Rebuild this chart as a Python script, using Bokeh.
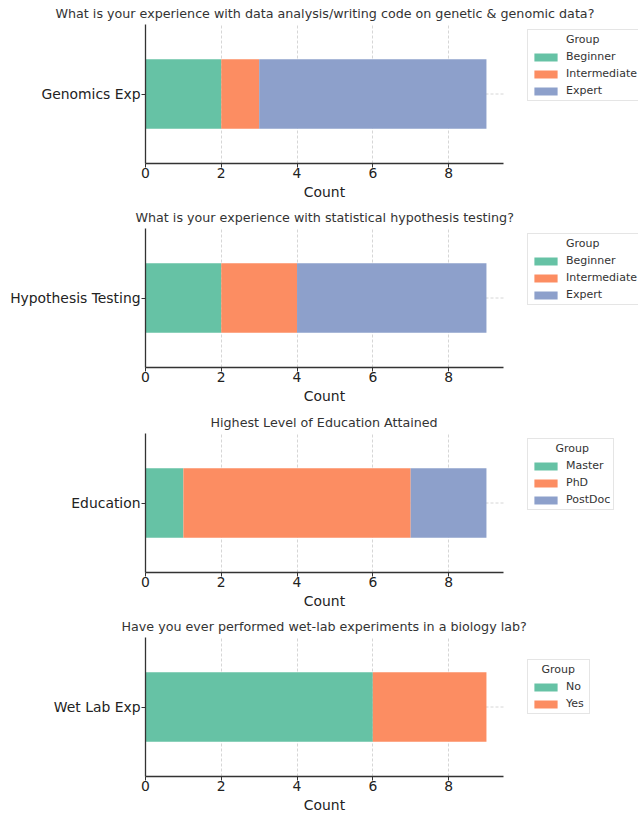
import numpy as np
from bokeh.plotting import figure
from bokeh.models import FactorRange, Range1d, FixedTicker, Legend, LegendItem, Title
from bokeh.layouts import column
from bokeh.embed import file_html
from bokeh.resources import INLINE

# ---- data ----
titles = [
    "What is your experience with data analysis/writing code on genetic & genomic data?",
    "What is your experience with statistical hypothesis testing?",
    "Highest Level of Education Attained",
    "Have you ever performed wet-lab experiments in a biology lab?",
]
categories = ["Genomics Exp", "Hypothesis Testing", "Education", "Wet Lab Exp"]

genomics_groups = ["Beginner", "Intermediate", "Expert"]
genomics_counts = [2, 1, 6]
hypothesis_groups = ["Beginner", "Intermediate", "Expert"]
hypothesis_counts = [2, 2, 5]
education_groups = ["Master", "PhD", "PostDoc"]
education_counts = [1, 6, 2]
wetlab_groups = ["No", "Yes"]
wetlab_counts = [6, 3]

x_ticks = [0, 2, 4, 6, 8]
x_label = "Count"
legend_title = "Group"
palette = ["#66c2a5", "#fc8d62", "#8da0cb"]

groups_all = [genomics_groups, hypothesis_groups, education_groups, wetlab_groups]
counts_all = [genomics_counts, hypothesis_counts, education_counts, wetlab_counts]

# ---- layout constants (pixels) ----
FIG_W = 638
LEFT = 145            # frame left inside figure
PLOT_W = 358          # width of the data area (0 .. xmax)
H = [204, 204, 205, 203]
TOP = [24, 24, 25, 24]
FRAME_H = 139
TITLE_START = [55, 135, 210, 121]   # left edge of each title inside the figure
LEG_X = 382
LEG_H = 72
FONT = "DejaVu Sans"

# approximate DejaVu Sans advance widths (em) for centring short texts
EM = {"B": .686, "I": .295, "E": .632, "M": .863, "P": .603, "D": .770, "N": .748,
      "Y": .611, "C": .698, "G": .775, "e": .615, "g": .635, "i": .278, "n": .634,
      "r": .411, "t": .392, "m": .974, "d": .635, "a": .613, "x": .592, "p": .635,
      "s": .521, "o": .612, "c": .550, "h": .634, "u": .634}


def text_w(s, size):
    return sum(EM.get(ch, 0.6) for ch in s) * size


figs = []
for i in range(4):
    cat = categories[i]
    groups = groups_all[i]
    counts = np.array(counts_all[i], dtype=float)
    rights = np.cumsum(counts)
    lefts = rights - counts
    xmax = rights[-1] * 1.05
    frame_w = FIG_W - LEFT
    x_end = xmax * frame_w / PLOT_W

    p = figure(
        y_range=FactorRange(factors=[cat]),
        x_range=Range1d(0, x_end),
        width=FIG_W, height=H[i],
        min_border_left=LEFT, min_border_right=0,
        min_border_top=TOP[i], min_border_bottom=H[i] - TOP[i] - FRAME_H,
        output_backend="svg", toolbar_location=None,
    )
    p.outline_line_color = None
    p.background_fill_color = "white"
    p.border_fill_color = "white"

    # horizontal dashed grid line at the category (only across the data area)
    p.ygrid.visible = False
    p.segment(x0=[0], x1=[xmax], y0=[cat], y1=[cat],
              line_color="#cccccc", line_dash="3 2", line_width=0.8)

    items = []
    for j, g in enumerate(groups):
        r = p.hbar(y=[cat], left=[lefts[j]], right=[rights[j]], height=0.5,
                   fill_color=palette[j], line_color=None)
        items.append(LegendItem(label=g, renderers=[r]))

    # title
    p.title.text = titles[i]
    p.title.align = "left"
    p.title.offset = TITLE_START[i] - LEFT
    p.title.text_font = FONT
    p.title.text_font_size = "12.7px"
    p.title.text_font_style = "normal"
    p.title.text_color = "#333333"
    p.title.standoff = 7

    # x axis
    p.xaxis.ticker = FixedTicker(ticks=x_ticks)
    p.xaxis.bounds = (0, xmax)
    p.xaxis.major_label_text_font = FONT
    p.xaxis.major_label_text_font_size = "13.9px"
    p.xaxis.major_label_text_color = "#222222"
    p.xaxis.major_label_standoff = 0
    p.xaxis.major_tick_out = 4
    p.xaxis.major_tick_in = 0
    p.xaxis.minor_tick_line_color = None
    p.xaxis.axis_line_color = "#333333"
    p.xaxis.axis_line_width = 1.3
    p.xaxis.major_tick_line_color = "#333333"

    # x axis label, centred under the data area
    center = PLOT_W / 2
    xlab = Title(text=x_label, align="left",
                 offset=center - text_w(x_label, 13.9) / 2,
                 text_font=FONT, text_font_size="13.9px", text_font_style="normal",
                 text_color="#222222", standoff=2)
    p.add_layout(xlab, "below")

    # y axis
    p.yaxis.major_label_text_font = FONT
    p.yaxis.major_label_text_font_size = "13.9px"
    p.yaxis.major_label_text_color = "#222222"
    p.yaxis.major_label_standoff = 1
    p.yaxis.major_tick_out = 4
    p.yaxis.major_tick_in = 0
    p.yaxis.axis_line_color = "#333333"
    p.yaxis.axis_line_width = 1.3
    p.yaxis.major_tick_line_color = "#333333"

    # vertical grid
    p.xgrid.grid_line_color = "#cccccc"
    p.xgrid.grid_line_dash = "3 2"
    p.xgrid.grid_line_width = 0.8

    # legend to the right of the data area
    inner = 29 + 7 + max(text_w(g, 11) for g in groups)
    pad = max(0, int(round((inner - text_w(legend_title, 11)) / 2 / (0.318 * 11))))
    legend = Legend(
        items=items,
        title="\u00a0" * pad + legend_title,
        location=(LEG_X, FRAME_H - 5 - LEG_H),
        orientation="vertical",
        padding=3, margin=0, spacing=4,
        label_height=13, glyph_height=10, glyph_width=29, label_standoff=6,
        title_standoff=4,
        label_text_font=FONT, label_text_font_size="11px", label_text_color="#333333",
        title_text_font=FONT, title_text_font_size="11px", title_text_font_style="normal",
        title_text_color="#333333",
        border_line_color="#cccccc", border_line_width=1,
        background_fill_color="white", background_fill_alpha=1.0,
    )
    p.add_layout(legend, "center")
    figs.append(p)

layout = column(*figs, spacing=0)
open("out.html", "w").write(file_html(layout, INLINE))
